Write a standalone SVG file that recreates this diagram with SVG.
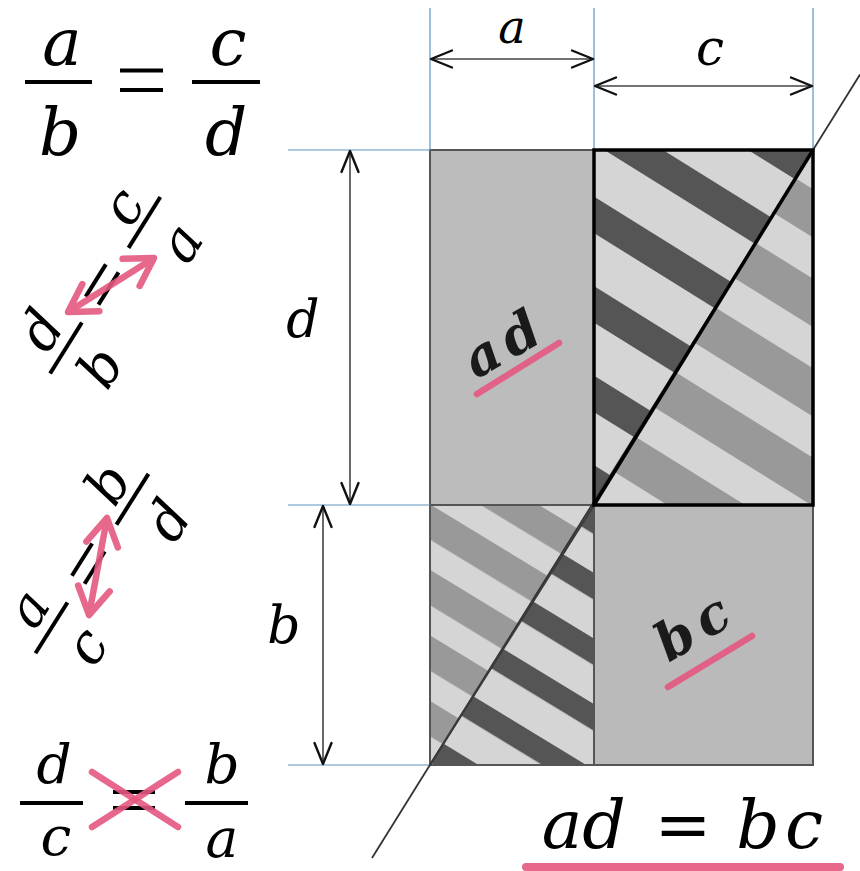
<svg xmlns="http://www.w3.org/2000/svg" xmlns:xlink="http://www.w3.org/1999/xlink" width="860" height="871" viewBox="0 0 860 871">
<style>
.it{font-family:"DejaVu Serif","Liberation Serif",serif;font-style:italic;fill:#000}
.bd{font-family:"DejaVu Serif","Liberation Serif",serif;font-style:italic;font-weight:bold;fill:#1a1a1a}
.guide{stroke:#5f93bd;stroke-width:1.2;fill:none}
.dim{stroke:#444;stroke-width:1.6;fill:none;marker-start:url(#dh);marker-end:url(#dh)}
.frac{stroke:#000;stroke-width:4;fill:none}
.pink{stroke:#e4587f;stroke-width:6.5;stroke-linecap:round;fill:none;opacity:0.9}
.parrow{stroke:#e4587f;stroke-width:6.5;stroke-linecap:butt;fill:none;opacity:0.9;marker-start:url(#ph);marker-end:url(#ph)}
.box{stroke:#555;stroke-width:2}
</style>
<defs>
<marker id="dh" markerUnits="userSpaceOnUse" viewBox="-26 -13 30 26" refX="0" refY="0" markerWidth="30" markerHeight="26" orient="auto-start-reverse">
<path d="M-21,-8.5 L0,0 L-21,8.5" fill="none" stroke="#111" stroke-width="2.4" stroke-linejoin="round" stroke-linecap="round"/>
</marker>
<marker id="ph" markerUnits="userSpaceOnUse" viewBox="-36 -24 42 48" refX="0" refY="0" markerWidth="42" markerHeight="48" orient="auto-start-reverse">
<path d="M-27,-16 L0,0 L-27,16" fill="none" stroke="#e4587f" stroke-width="6.5" stroke-linejoin="round" stroke-linecap="round"/>
</marker>
<pattern id="pDark" patternUnits="userSpaceOnUse" width="20" height="76" patternTransform="rotate(31.9)">
<rect width="20" height="76" fill="#d5d5d5"/>
<rect y="5" width="20" height="31" fill="#555555"/>
</pattern>
<pattern id="pMed" patternUnits="userSpaceOnUse" width="20" height="76" patternTransform="rotate(31.9)">
<rect width="20" height="76" fill="#d5d5d5"/>
<rect y="35" width="20" height="41" fill="#999999"/>
</pattern>
</defs>
<rect width="860" height="871" fill="#ffffff"/>

<g id="rect-ad">
<rect class="box" x="430" y="150" width="164" height="355" fill="#bcbcbc"/>
<text class="bd" font-size="53" letter-spacing="8" text-anchor="middle" transform="translate(514,358) rotate(-30)">ad</text>
<line class="pink" x1="477" y1="394" x2="559" y2="343"/>
</g>

<g id="rect-bl">
<use xlink:href="#stripes" href="#stripes" transform="matrix(-0.7489,0,0,-0.7324,1038.85,874.86)"/>
<rect class="box" x="430" y="505" width="164" height="260" fill="none"/>
</g>

<g id="rect-bc">
<rect class="box" x="594" y="505" width="219" height="260" fill="#bababa"/>
<text class="bd" font-size="53" letter-spacing="8" text-anchor="middle" transform="translate(705,641) rotate(-31)">bc</text>
<line class="pink" x1="668" y1="687" x2="752" y2="636"/>
</g>

<g id="rect-tr">
<g id="stripes">
<polygon points="594,150 813,150 594,505" fill="url(#pDark)"/>
<polygon points="813,150 813,505 594,505" fill="url(#pMed)"/>
</g>
</g>

<g id="connectors">
<line class="guide" x1="430" y1="8" x2="430" y2="150"/>
<line class="guide" x1="594" y1="8" x2="594" y2="150"/>
<line class="guide" x1="813" y1="8" x2="813" y2="150"/>
<line class="guide" x1="288" y1="150" x2="430" y2="150"/>
<line class="guide" x1="288" y1="505" x2="430" y2="505"/>
<line class="guide" x1="288" y1="765" x2="430" y2="765"/>
<line class="dim" x1="431" y1="59" x2="593" y2="59"/>
<line class="dim" x1="595" y1="86" x2="812" y2="86"/>
<line class="dim" x1="350" y1="151" x2="350" y2="504"/>
<line class="dim" x1="323" y1="506" x2="323" y2="764"/>
<line x1="372" y1="858" x2="860" y2="74.5" stroke="#333" stroke-width="1.8"/>
<line x1="430" y1="765" x2="594" y2="505" stroke="#3a3a3a" stroke-width="2"/>
</g>

<g id="rect-tr-border">
<rect x="594" y="150" width="219" height="355" fill="none" stroke="#000" stroke-width="3.5"/>
<line x1="594" y1="505" x2="813" y2="150" stroke="#000" stroke-width="3.5"/>
</g>

<g id="dim-labels">
<text class="it" font-size="46" x="512" y="43" text-anchor="middle">a</text>
<text class="it" font-size="50" x="710" y="65" text-anchor="middle">c</text>
<text class="it" font-size="52" x="303" y="337" text-anchor="middle">d</text>
<text class="it" font-size="52" x="284" y="643" text-anchor="middle">b</text>
</g>

<g id="formula-top">
<text class="it" font-size="66" x="62" y="65" text-anchor="middle">a</text>
<line class="frac" x1="25" y1="82" x2="92" y2="82"/>
<text class="it" font-size="66" x="60" y="155" text-anchor="middle">b</text>
<line class="frac" x1="120" y1="70.5" x2="163" y2="70.5"/>
<line class="frac" x1="120" y1="90" x2="163" y2="90"/>
<text class="it" font-size="66" x="228" y="65" text-anchor="middle">c</text>
<line class="frac" x1="192" y1="82" x2="260" y2="82"/>
<text class="it" font-size="66" x="226" y="155" text-anchor="middle">d</text>
</g>

<g id="formula-rot1">
<g transform="translate(66,348) rotate(-58)">
<text class="it" font-size="55" x="2" y="-12" text-anchor="middle">d</text>
<line class="frac" x1="-30" y1="0" x2="30" y2="0"/>
<text class="it" font-size="55" x="2" y="58" text-anchor="middle">b</text>
<line class="frac" x1="54" y1="-10.5" x2="92" y2="-10.5"/>
<line class="frac" x1="54" y1="4.5" x2="92" y2="4.5"/>
<text class="it" font-size="55" x="150" y="-8" text-anchor="middle">c</text>
<line class="frac" x1="118" y1="0" x2="178" y2="0"/>
<text class="it" font-size="55" x="150" y="60" text-anchor="middle">a</text>
</g>
<line class="parrow" x1="68" y1="312" x2="154" y2="258"/>
</g>

<g id="formula-rot2">
<g transform="translate(52,627) rotate(-57.8)">
<text class="it" font-size="53" x="3" y="-12" text-anchor="middle">a</text>
<line class="frac" x1="-31" y1="0" x2="29" y2="0"/>
<text class="it" font-size="55" x="2" y="58" text-anchor="middle">c</text>
<line class="frac" x1="54" y1="-10.5" x2="92" y2="-10.5"/>
<line class="frac" x1="54" y1="4.5" x2="92" y2="4.5"/>
<text class="it" font-size="55" x="151" y="-10" text-anchor="middle">b</text>
<line class="frac" x1="121" y1="0" x2="181" y2="0"/>
<text class="it" font-size="55" x="152" y="60" text-anchor="middle">d</text>
</g>
<line class="parrow" x1="89" y1="615" x2="107" y2="518"/>
</g>

<g id="formula-bottom">
<text class="it" font-size="55" x="54" y="783" text-anchor="middle">d</text>
<line class="frac" x1="20" y1="803" x2="83" y2="803"/>
<text class="it" font-size="55" x="56" y="855" text-anchor="middle">c</text>
<line class="frac" x1="113" y1="792" x2="155" y2="792"/>
<line class="frac" x1="113" y1="808" x2="155" y2="808"/>
<text class="it" font-size="55" x="222" y="783" text-anchor="middle">b</text>
<line class="frac" x1="185" y1="803" x2="248" y2="803"/>
<text class="it" font-size="55" x="222" y="857" text-anchor="middle">a</text>
<line class="pink" x1="92" y1="772" x2="178" y2="827"/>
<line class="pink" x1="92" y1="827" x2="178" y2="772"/>
</g>

<g id="equation">
<text class="it" font-size="68" y="848" text-anchor="middle"><tspan x="562">a</tspan><tspan x="604">d</tspan><tspan x="683">=</tspan><tspan x="758">b</tspan><tspan x="804">c</tspan></text>
<line x1="526" y1="867" x2="840" y2="867" stroke="#e4587f" stroke-width="8" stroke-linecap="round" opacity="0.9"/>
</g>
</svg>
